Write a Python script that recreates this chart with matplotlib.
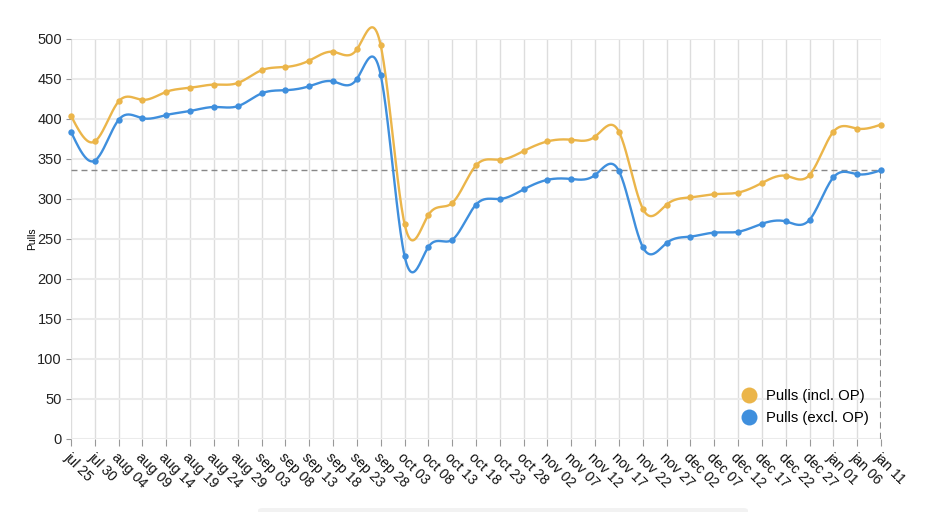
import numpy as np
import matplotlib.pyplot as plt
from matplotlib.lines import Line2D
from matplotlib.patches import FancyBboxPatch

plt.rcParams['font.family'] = ['Liberation Sans', 'DejaVu Sans']

dates = ['jul 25', 'jul 30', 'aug 04', 'aug 09', 'aug 14', 'aug 19', 'aug 24', 'aug 29',
         'sep 03', 'sep 08', 'sep 13', 'sep 18', 'sep 23', 'sep 28', 'oct 03', 'oct 08',
         'oct 13', 'oct 18', 'oct 23', 'oct 28', 'nov 02', 'nov 07', 'nov 12', 'nov 17',
         'nov 22', 'nov 27', 'dec 02', 'dec 07', 'dec 12', 'dec 17', 'dec 22', 'dec 27',
         'jan 01', 'jan 06', 'jan 11']

pulls_incl = [404, 372, 422, 424, 434, 439, 443, 445, 461, 465, 473, 484, 487, 492,
              269, 280, 295, 342, 349, 360, 372, 374, 378, 384, 288, 293, 302, 306,
              308, 320, 329, 330, 384, 388, 393]

pulls_excl = [384, 348, 399, 401, 405, 410, 415, 416, 432, 436, 441, 447, 450, 455,
              229, 240, 249, 293, 300, 312, 324, 325, 330, 335, 240, 245, 253, 258,
              259, 269, 272, 274, 327, 331, 336]

yticks = [0, 50, 100, 150, 200, 250, 300, 350, 400, 450, 500]

orange = '#ebb54a'
blue = '#3f8fdd'


def natural_spline(y, steps=24):
    # natural cubic spline through evenly spaced points
    y = np.asarray(y, dtype=float)
    n = len(y)
    A = np.zeros((n, n))
    b = np.zeros(n)
    A[0, 0] = 1
    A[-1, -1] = 1
    for i in range(1, n - 1):
        A[i, i - 1] = 1
        A[i, i] = 4
        A[i, i + 1] = 1
        b[i] = 6 * (y[i + 1] - 2 * y[i] + y[i - 1])
    M = np.linalg.solve(A, b)
    xs, ys = [], []
    t = np.linspace(0, 1, steps, endpoint=False)
    for i in range(n - 1):
        s = (1 - t) * y[i] + t * y[i + 1] + ((1 - t) ** 3 - (1 - t)) * M[i] / 6 + (t ** 3 - t) * M[i + 1] / 6
        xs.extend(i + t)
        ys.extend(s)
    xs.append(n - 1)
    ys.append(y[-1])
    return np.array(xs), np.array(ys)


W, H = 953, 512
fig = plt.figure(figsize=(W / 100, H / 100), dpi=100)
ax = fig.add_axes([71 / W, (H - 439) / H, 810 / W, 400 / H])

x = np.arange(len(dates))

# crosshair at the last point
last = pulls_excl[-1]
ax.plot([x[0], x[-1]], [last, last], color='#888888', lw=1.0, dashes=(4.3, 2.9), zorder=2)
ax.vlines(x[-1], 0, last, color='#888888', lw=1.5, linestyles=(0, (3, 2)), zorder=2)

for vals, c in [(pulls_incl, orange), (pulls_excl, blue)]:
    sx, sy = natural_spline(vals)
    ax.plot(sx, sy, color=c, lw=1.7, clip_on=False, zorder=3)
    ax.plot(x, vals, 'o', color=c, markersize=4.6, markeredgewidth=0, clip_on=False, zorder=4)

ax.set_xlim(0, len(dates) - 1)
ax.set_ylim(0, 500)
ax.set_yticks(yticks)
ax.set_xticks(x)
ax.set_xticklabels(dates, rotation=-45, ha='left', va='top', rotation_mode='anchor')

for s in ax.spines.values():
    s.set_visible(False)

ax.yaxis.grid(True, color='#ebebeb', lw=1.5)
ax.xaxis.grid(True, color='#dddddd', lw=1.0)
ax.set_axisbelow(True)

ax.tick_params(axis='y', length=3.5, color='#999999', labelsize=10.5, labelcolor='#222222', pad=3)
ax.tick_params(axis='x', length=5, color='#999999', labelsize=10.2, labelcolor='#111111', pad=3)

ax.set_ylabel('Pulls', fontsize=7.5, labelpad=0.5)

handles = [Line2D([], [], marker='o', ls='', color=orange, markersize=11.5, markeredgewidth=0),
           Line2D([], [], marker='o', ls='', color=blue, markersize=11.5, markeredgewidth=0)]
ax.legend(handles, ['Pulls (incl. OP)', 'Pulls (excl. OP)'], loc='upper left',
          bbox_to_anchor=(742 / W, (H - 389) / H), bbox_transform=fig.transFigure,
          frameon=False, fontsize=10.7, handlelength=1.0, handletextpad=0.6,
          labelspacing=0.55, borderpad=0, borderaxespad=0)

# faint bar at the very bottom
fig.patches.append(FancyBboxPatch((258 / W, -4 / H), 490 / W, 8 / H,
                                  boxstyle='round,pad=0,rounding_size=0.005',
                                  transform=fig.transFigure, color='#f2f2f2', lw=0))

fig.savefig('out.png', dpi=100)
